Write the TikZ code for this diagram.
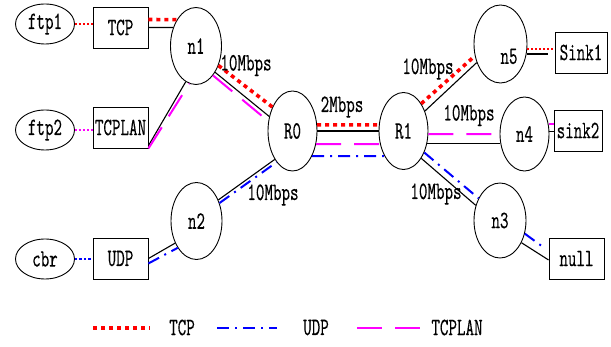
\documentclass[tikz,border=0pt]{standalone}
\usepackage{fontspec}
\usepackage{tikz}
\usetikzlibrary{shapes.geometric}
\definecolor{lanpink}{RGB}{255,0,255}
\newfontfamily\netfamily[Extension=.otf, FakeStretch=0.65, FakeBold=0.2]{lmmono10-regular}
\newcommand{\netfont}{\fontsize{25}{27}\netfamily}
\tikzset{
  every node/.style={font=\netfont},
  host/.style={ellipse, draw, line width=0.9pt, minimum width=59pt, minimum height=40pt, inner sep=0pt},
  router/.style={ellipse, draw, line width=0.9pt, minimum width=51pt, minimum height=77pt, inner sep=0pt},
  agent/.style={rectangle, draw, line width=0.9pt, minimum width=55pt, minimum height=41pt, inner sep=0pt},
  wire/.style={line width=1.1pt},
  tcpflow/.style={red, line width=3.6pt, dash pattern=on 4pt off 4pt},
  tcpdot/.style={red, line width=2pt, dash pattern=on 2pt off 2pt},
  udpflow/.style={blue, line width=2pt, dash pattern=on 12pt off 6pt on 2pt off 6pt},
  udpdot/.style={blue, line width=2.5pt, dash pattern=on 2.5pt off 2pt},
  lanflow/.style={lanpink, line width=2pt, dash pattern=on 25pt off 13pt},
  landot/.style={lanpink, line width=2pt, dash pattern=on 2pt off 2pt}
}
\begin{document}
\begin{tikzpicture}[x=1pt, y=-1pt]
\useasboundingbox (0,0) rectangle (611,347);

% sources and agents
\node[host] (ftp1) at (45,24) {ftp1};
\node[host] (ftp2) at (45,130) {ftp2};
\node[host] (cbr) at (45,259) {cbr};
\node[agent] (TCP) at (120.5,27.5) {TCP};
\node[agent] (TCPLAN) at (120.5,127.5) {TCPLAN};
\node[agent] (UDP) at (120.5,258.5) {UDP};

% nodes
\node[router] (n1) at (196,46) {n1};
\node[router] (n2) at (196.5,221) {n2};
\node[router, minimum width=49pt, minimum height=80pt] (R0) at (292.5,131) {R0};
\node[router, minimum width=49pt] (R1) at (403.5,131) {R1};
\node[router, minimum width=53pt, minimum height=78pt] (n5) at (500.5,44) {\rule{0pt}{40pt}\hspace*{17pt}n5};
\node[router, minimum width=49pt, minimum height=74pt] (n4) at (524.5,134) {n4};
\node[router, minimum width=52pt, minimum height=75pt] (n3) at (500,220.5) {n3};

% sinks
\node[agent, minimum width=52pt] (Sink1) at (581,52.5) {Sink1};
\node[agent, minimum width=48pt] (sink2) at (578,130.5) {sink2};
\node[agent] (null) at (576.5,258.5) {null};

% left links
\draw[tcpdot] (ftp1.east) -- (ftp1.east -| TCP.west);
\draw[landot] (ftp2.east) -- (ftp2.east -| TCPLAN.west);
\draw[udpdot] (cbr.east) -- (cbr.east -| UDP.west);
\draw[wire] (TCP.east) -- (n1.141);
\draw[tcpflow] ([yshift=8pt]TCP.east) -- (n1.126);
\draw[wire] (TCPLAN.-33) -- (n1.-106);
\draw[lanflow] (TCPLAN.south east) -- (n1.-100);
\draw[wire] (UDP.east) -- (n2.226);
\draw[udpflow] (UDP.-10) -- (n2.235);
\draw[wire] (n1.-54) -- (R0.148);
\draw[tcpflow] (n1.-41) -- (R0.130);
\draw[lanflow] (n1.-60) -- (R0.158);
\draw[wire] (n2.44) -- (R0.238);
\draw[udpflow] (n2.38) -- (R0.243);

% bottleneck R0 - R1
\draw[wire] (R0.east) -- (R1.west);
\draw[tcpflow] (R0.14) -- (R1.166);
\draw[lanflow] (R0.-29) -- (R1.209);
\draw[udpflow] (R0.-52) -- (R1.233);

% right links
\draw[wire] (R1.43) -- (n5.218);
\draw[tcpflow] (R1.57) -- (n5.205);
\draw[wire, shorten >=7pt] (n5.-21) -- (n5.-21 -| Sink1.west);
\draw[tcpdot] (n5.-11) -- (n5.-11 -| Sink1.west);
\draw[wire] (R1.-27) -- (R1.-27 -| n4.west);
\draw[lanflow] (R1.-7) -- (n4.west);
\draw[wire] (n4.6) -- (n4.6 -| sink2.west);
\draw[lanflow] (n4.23) -- (n4.23 -| sink2.west);
\draw[wire] (R1.-57) -- (n3.148);
\draw[udpflow] (R1.-46) -- (n3.134);
\draw[wire] (n3.-46) -- (null.183);
\draw[udpflow, shorten >=6pt] (n3.-28) -- (null.165);

% bandwidth labels
\node (bwA) at (246,65.5) {10Mbps};
\node (bwB) at (342,107) {2Mbps};
\node (bwC) at (273,195) {10Mbps};
\node (bwD) at (428,69) {10Mbps};
\node (bwE) at (469,115.5) {10Mbps};
\node (bwF) at (436,194) {10Mbps};

% legend
\coordinate (keyTcpA) at (93,328);
\coordinate (keyTcpB) at (150,328);
\coordinate (keyUdpA) at (217,328);
\coordinate (keyUdpB) at (277,328);
\coordinate (keyLanA) at (357,328);
\coordinate (keyLanB) at (421,328);
\draw[tcpflow] (keyTcpA) -- (keyTcpB);
\node (keyTcp) at (182,327.5) {TCP};
\draw[udpflow] (keyUdpA) -- (keyUdpB);
\node (keyUdp) at (316,327.5) {UDP};
\draw[lanflow] (keyLanA) -- (keyLanB);
\node (keyLan) at (457,327.5) {TCPLAN};
\end{tikzpicture}
\end{document}
